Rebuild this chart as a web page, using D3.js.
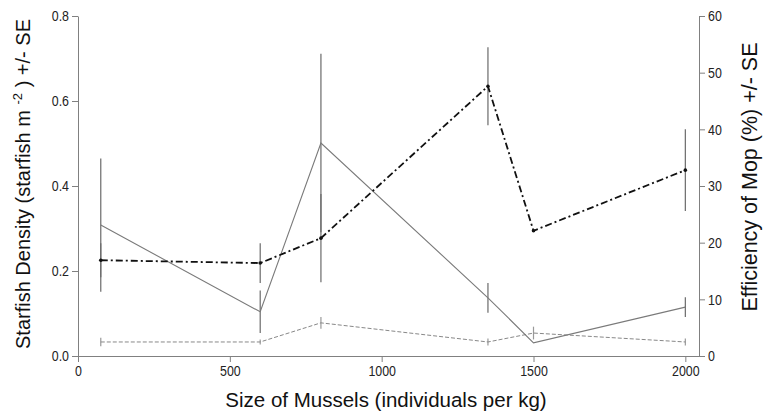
<!DOCTYPE html>
<html>
<head>
<meta charset="utf-8">
<script src="https://cdn.jsdelivr.net/npm/d3@7"></script>
<style>
  body { margin: 0; background: #fff; }
  svg { font-family: "Liberation Sans", Arial, sans-serif; }
  .axis path, .axis line { stroke: #808080; }
  .axis text { fill: #222; font-size: 15.5px; }
</style>
</head>
<body>
<svg id="chart" width="764" height="416"></svg>
<script>
// mussel size (individuals per kg)
var sizes = [75, 600, 800, 1350, 1500, 2000];

// starfish density, solid line (left axis)
var densitySolid = [0.308, 0.104, 0.501, 0.137, 0.031, 0.115];
var densitySolidSE = [0.157, 0.05, 0.21, 0.035, 0, 0.023];

// dashed line (left axis)
var densityDashed = [0.033, 0.033, 0.078, 0.033, 0.054, 0.033];
var densityDashedSE = [0.01, 0.006, 0.014, 0.008, 0.015, 0.008];

// efficiency of mop, dash-dot line (right axis)
var efficiency = [16.9, 16.4, 20.8, 47.6, 22.1, 32.8];
var efficiencySE = [3, 3.5, 7.8, 6.9, 0, 7.2];

var xTicks = [0, 500, 1000, 1500, 2000];
var leftTicks = [0, 0.2, 0.4, 0.6, 0.8];
var rightTicks = [0, 10, 20, 30, 40, 50, 60];

const margin = { top: 16, bottom: 60, left: 78, right: 65 };

var svg = d3.select("#chart");
var width = 764 - margin.left - margin.right,
  height = 416 - margin.top - margin.bottom;

var g = svg.append("g")
  .attr("transform", "translate(" + margin.left + "," + margin.top + ")");

// scales
var xScale = d3.scaleLinear().domain([0, 2045]).range([0, width]);
var yLeft = d3.scaleLinear().domain([0, 0.8]).range([height, 0]);
var yRight = d3.scaleLinear().domain([0, 60]).range([height, 0]);

// squeeze tick labels a bit (reference digits are tall and narrow)
function narrow(sel) {
  sel.selectAll("text").each(function() {
    var w = this.getComputedTextLength();
    d3.select(this).attr("textLength", w * 0.8).attr("lengthAdjust", "spacingAndGlyphs");
  });
}

// axes
g.append("g")
  .attr("class", "axis")
  .attr("transform", "translate(0," + height + ")")
  .call(d3.axisBottom(xScale).tickValues(xTicks).tickFormat(d3.format("d")).tickSize(6).tickPadding(3).tickSizeOuter(0))
  .call(narrow);

g.append("g")
  .attr("class", "axis")
  .call(d3.axisLeft(yLeft).tickValues(leftTicks).tickFormat(d3.format(".1f")).tickSize(6).tickPadding(3).tickSizeOuter(0))
  .call(narrow);

g.append("g")
  .attr("class", "axis")
  .attr("transform", "translate(" + width + ",0)")
  .call(d3.axisRight(yRight).tickValues(rightTicks).tickSize(6).tickPadding(3).tickSizeOuter(0))
  .call(narrow);

// helper to draw a series with its error bars
function drawSeries(values, errs, yScale, opts) {
  var rows = values.map(function(v, i) { return { x: sizes[i], y: v, e: errs[i] }; });

  g.append("g").selectAll("line")
    .data(rows.filter(function(d) { return d.e > 0; }))
    .enter()
    .append("line")
    .attr("x1", function(d) { return xScale(d.x); })
    .attr("x2", function(d) { return xScale(d.x); })
    .attr("y1", function(d) { return yScale(d.y - d.e); })
    .attr("y2", function(d) { return yScale(d.y + d.e); })
    .attr("stroke", opts.barColor)
    .attr("stroke-width", 1.2);

  var line = d3.line()
    .x(function(d) { return xScale(d.x); })
    .y(function(d) { return yScale(d.y); });

  g.append("path")
    .datum(rows)
    .attr("d", line)
    .attr("fill", "none")
    .attr("stroke", opts.color)
    .attr("stroke-width", opts.width)
    .attr("stroke-dasharray", opts.dash);

  if (opts.dots) {
    g.append("g").selectAll("circle")
      .data(rows)
      .enter()
      .append("circle")
      .attr("cx", function(d) { return xScale(d.x); })
      .attr("cy", function(d) { return yScale(d.y); })
      .attr("r", 1.8)
      .attr("fill", opts.color);
  }
}

drawSeries(densityDashed, densityDashedSE, yLeft, { color: "#888", barColor: "#999", width: 1, dash: "4,2" });
drawSeries(densitySolid, densitySolidSE, yLeft, { color: "#7a7a7a", barColor: "#6a6a6a", width: 1.1, dash: null });
drawSeries(efficiency, efficiencySE, yRight, { color: "#111", barColor: "#6a6a6a", width: 1.8, dash: "7,3,2,3", dots: true });

// axis titles
svg.append("text")
  .attr("x", 386)
  .attr("y", 407)
  .attr("text-anchor", "middle")
  .attr("font-size", 20.5)
  .attr("fill", "#111")
  .text("Size of Mussels (individuals per kg)");

var leftTitle = svg.append("text")
  .attr("transform", "translate(30,184) rotate(-90)")
  .attr("text-anchor", "middle")
  .attr("font-size", 20)
  .attr("fill", "#111");
leftTitle.append("tspan").text("Starfish Density (starfish m ");
leftTitle.append("tspan").attr("font-size", 13).attr("dy", -8).text("-2");
leftTitle.append("tspan").attr("dy", 8).text(" ) +/- SE");

svg.append("text")
  .attr("transform", "translate(757,177) rotate(-90)")
  .attr("text-anchor", "middle")
  .attr("font-size", 21.5)
  .attr("fill", "#111")
  .text("Efficiency of Mop (%) +/- SE");
</script>
</body>
</html>
